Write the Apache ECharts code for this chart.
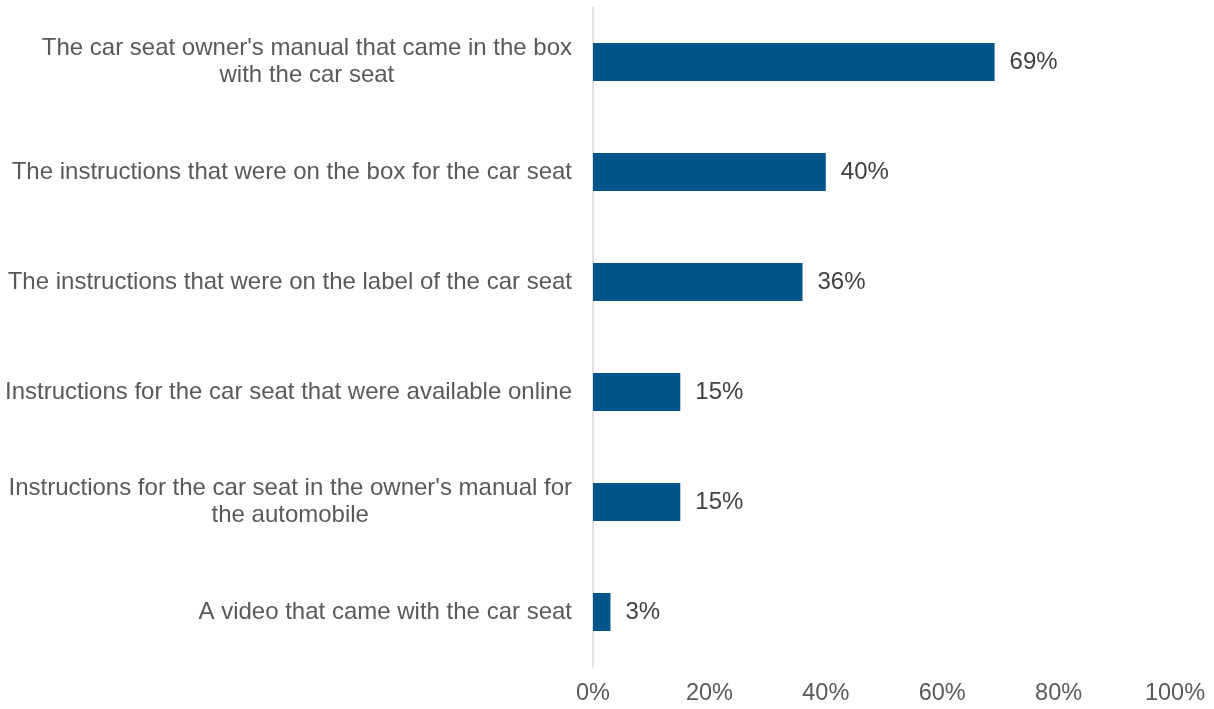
<!DOCTYPE html>
<html>
<head>
<meta charset="utf-8">
<script src="https://cdn.jsdelivr.net/npm/echarts@6/dist/echarts.min.js"></script>
<style>
  html, body { margin: 0; padding: 0; background: #fff; }
  #chart { width: 1214px; height: 709px; }
</style>
</head>
<body>
<div id="chart"></div>
<script>
// Sources used for car seat installation guidance (share of respondents)
const categories = [
  "The car seat owner's manual that came in the box\nwith the car seat",
  "The instructions that were on the box for the car seat",
  "The instructions that were on the label of the car seat",
  "Instructions for the car seat that were available online",
  "Instructions for the car seat in the owner's manual for\nthe automobile",
  "A video that came with the car seat"
];
const values = [69, 40, 36, 15, 15, 3];
const tickLabels = ["0%", "20%", "40%", "60%", "80%", "100%"];

const chart = echarts.init(document.getElementById('chart'), null, { renderer: 'canvas' });
const FONT = '"Liberation Sans", Arial, sans-serif';

chart.setOption({
  animation: false,
  backgroundColor: '#ffffff',
  grid: { left: 593, right: 39, top: 7, bottom: 42, containLabel: false },
  xAxis: {
    type: 'value',
    min: 0,
    max: 100,
    interval: 20,
    splitLine: { show: false },
    axisLine: { show: false },
    axisTick: { show: false },
    axisLabel: {
      margin: 15,
      color: '#595959',
      fontFamily: FONT,
      fontSize: 23.5,
      formatter: (v) => tickLabels[v / 20]
    }
  },
  yAxis: {
    type: 'category',
    inverse: true,
    data: categories,
    axisLine: { show: true, lineStyle: { color: '#d9d9d9', width: 1.5 } },
    axisTick: { show: false },
    axisLabel: {
      margin: 21,
      fontFamily: FONT,
      formatter: (v) => '{c|' + v + '}',
      rich: {
        c: { align: 'center', color: '#595959', fontFamily: FONT, fontSize: 24, lineHeight: 27 }
      }
    }
  },
  series: [{
    type: 'bar',
    data: values,
    barWidth: 38,
    itemStyle: { color: '#02558b' },
    label: {
      show: true,
      position: 'right',
      distance: 15,
      color: '#404040',
      fontFamily: FONT,
      fontSize: 24,
      formatter: (p) => p.value + '%'
    }
  }]
});
</script>
</body>
</html>
